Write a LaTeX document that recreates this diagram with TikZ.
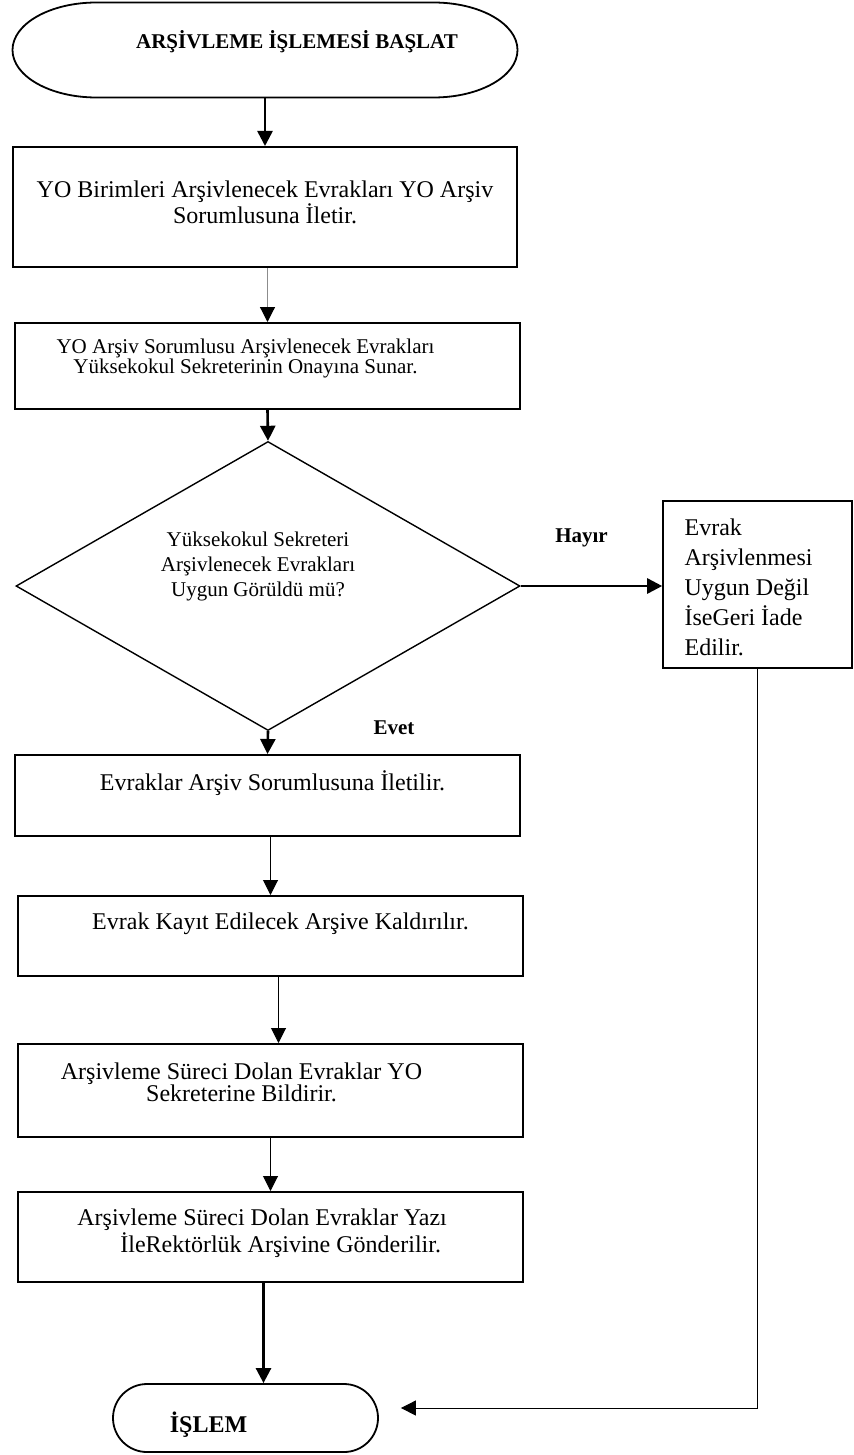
\documentclass[tikz,border=0pt]{standalone}
\usepackage{fontspec}
\setmainfont{Liberation Serif}
\usetikzlibrary{shapes, arrows.meta}

\begin{document}
\begin{tikzpicture}[x=0.5pt, y=-0.5pt,
    stepbox/.style={draw, rectangle, line width=1pt, inner sep=0pt},
    steptext/.style={inner sep=0pt, align=center, anchor=north, font=\fontsize{12}{10}\selectfont},
    flow/.style={line width=1.3pt, -{Triangle[length=7.5pt, width=7.5pt]}},
    thinflow/.style={line width=0.5pt, -{Triangle[length=7.5pt, width=7.5pt]}},
    greyflow/.style={line width=0.6pt, draw=black!45, -{Triangle[length=7.5pt, width=7.5pt, color=black]}},
    answer/.style={font=\fontsize{10.5}{12}\selectfont\bfseries}]
    \useasboundingbox (0,0) rectangle (854,1455);

    % Terminals
    \node[inner sep=0pt, outer sep=0pt, minimum width=252.5pt, minimum height=47.5pt,
          label={[steptext, anchor=center, xshift=16pt, yshift=4pt, font=\fontsize{10.5}{12}\selectfont\bfseries]center:ARŞİVLEME İŞLEMESİ BAŞLAT}] (start) at (265,50) {};
    \draw[line width=0.9pt, line join=round] ([xshift=42pt]start.north west) -- ([xshift=-42pt]start.north east)
        arc[start angle=90, end angle=-90, x radius=42pt, y radius=23.75pt] -- ([xshift=42pt]start.south west)
        arc[start angle=270, end angle=90, x radius=42pt, y radius=23.75pt] -- cycle;
    \node[draw, line width=0.9pt, rounded corners=17pt, minimum width=132.5pt, minimum height=34pt, inner sep=0pt,
          label={[steptext, anchor=center, xshift=-18.5pt, yshift=-3.5pt, font=\fontsize{12}{12}\selectfont\bfseries]center:İŞLEM}] (end) at (245.5,1418) {};

    % Steps
    \node[stepbox, minimum width=252pt, minimum height=60pt,
          label={[steptext, yshift=-17pt, font=\fontsize{12}{9.5}\selectfont]north:{YO Birimleri Arşivlenecek Evrakları YO Arşiv\\Sorumlusuna İletir.}}] (b1) at (265,207) {};
    \node[stepbox, minimum width=252.5pt, minimum height=43pt,
          label={[steptext, xshift=-11pt, yshift=-8.5pt, font=\fontsize{10.5}{10}\selectfont]north:{YO Arşiv Sorumlusu Arşivlenecek Evrakları\\Yüksekokul Sekreterinin Onayına Sunar.}}] (b2) at (267.5,366) {};
    \node[draw, diamond, line width=0.7pt, inner sep=0pt, minimum width=252pt, minimum height=144.5pt,
          label={[steptext, anchor=center, xshift=-5pt, yshift=10pt, font=\fontsize{10.5}{12.5}\selectfont]center:{Yüksekokul Sekreteri\\Arşivlenecek Evrakları\\Uygun Görüldü mü?}}] (dec) at (268,586) {};
    \node[stepbox, line width=0.8pt, minimum width=94.5pt, minimum height=83.5pt,
          label={[steptext, anchor=north west, align=left, xshift=11pt, yshift=-9pt, font=\fontsize{12}{15}\selectfont]north west:{Evrak\\Arşivlenmesi\\Uygun Değil\\İseGeri İade\\Edilir.}}] (ret) at (757.5,584.5) {};
    \node[stepbox, minimum width=252.5pt, minimum height=40.5pt,
          label={[steptext, xshift=2.5pt, yshift=-8pt]north:Evraklar Arşiv Sorumlusuna İletilir.}] (b3) at (267.5,795.5) {};
    \node[stepbox, minimum width=252.5pt, minimum height=40pt,
          label={[steptext, xshift=5pt, yshift=-8.5pt]north:Evrak Kayıt Edilecek Arşive Kaldırılır.}] (b4) at (270.5,936) {};
    \node[stepbox, minimum width=252.5pt, minimum height=46.5pt,
          label={[steptext, xshift=-14.5pt, yshift=-9.5pt, font=\fontsize{12}{11}\selectfont]north:{Arşivleme Süreci Dolan Evraklar YO\\Sekreterine Bildirir.}}] (b5) at (270.5,1090.5) {};
    \node[stepbox, minimum width=252.5pt, minimum height=45pt,
          label={[steptext, anchor=north west, align=left, xshift=30pt, yshift=-8.5pt, font=\fontsize{12}{13.5}\selectfont]north west:{Arşivleme Süreci Dolan Evraklar Yazı\\\hspace*{21.5pt}İleRektörlük Arşivine Gönderilir.}}] (b6) at (270.5,1237) {};

    % Connectors
    \draw[flow] (start.south) -- (b1.north);
    \draw[greyflow] (b1.south -| b2.north) -- (b2.north);
    \draw[flow] (b2.south) -- (dec.north);
    \draw[flow] (dec.east) -- (dec.east -| ret.west) node[answer, pos=0.43, yshift=24pt] {Hayır};
    \draw[flow] (dec.south) -- (b3.north) node[answer, at start, xshift=63pt, yshift=1.5pt] {Evet};
    \draw[thinflow] (b3.south -| b4.north) -- (b4.north);
    \draw[thinflow] ([xshift=4pt]b4.south) -- ([xshift=4pt]b5.north);
    \draw[thinflow] (b5.south) -- (b6.north);
    \draw[flow] ([xshift=-3.5pt]b6.south) -- ([xshift=-3.5pt]b6.south |- end.north);
    \draw[thinflow, shorten >=11pt] (ret.south) |- ([yshift=5pt]end.east);
\end{tikzpicture}
\end{document}
